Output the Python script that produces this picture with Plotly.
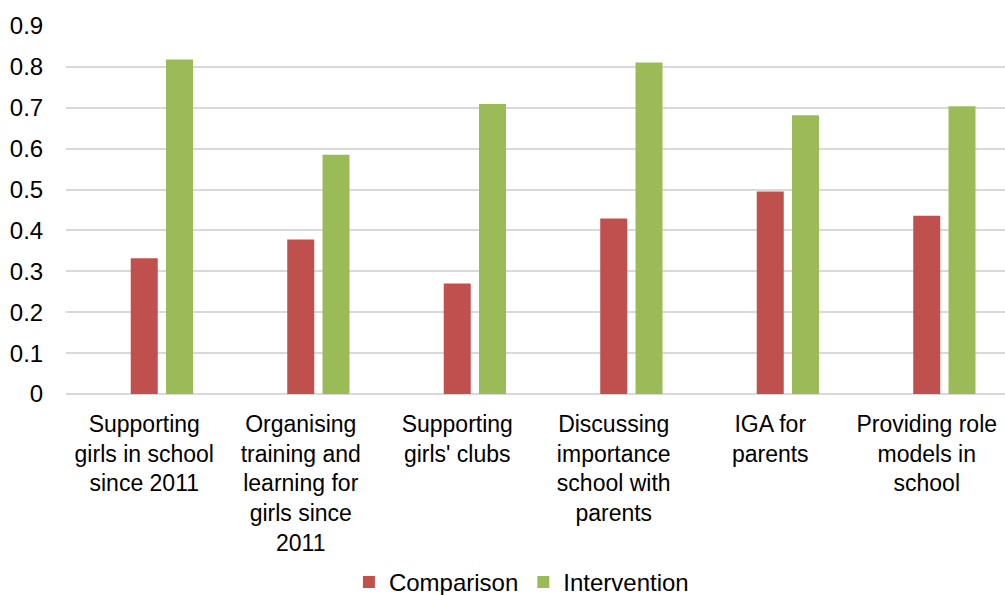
import plotly.graph_objects as go

categories = [
    "Supporting<br>girls in school<br>since 2011",
    "Organising<br>training and<br>learning for<br>girls since<br>2011",
    "Supporting<br>girls' clubs",
    "Discussing<br>importance<br>school with<br>parents",
    "IGA for<br>parents",
    "Providing role<br>models in<br>school",
]
comparison = [0.332, 0.378, 0.270, 0.429, 0.495, 0.436]
intervention = [0.818, 0.585, 0.709, 0.811, 0.682, 0.704]
y_ticks = [0, 0.1, 0.2, 0.3, 0.4, 0.5, 0.6, 0.7, 0.8, 0.9]
y_ticktext = ["0", "0.1", "0.2", "0.3", "0.4", "0.5", "0.6", "0.7", "0.8", "0.9"]

RED = "#C0504D"
GREEN = "#9BBB59"
FONT = "Liberation Sans, Arial, sans-serif"

fig = go.Figure()
fig.add_trace(go.Bar(
    x=categories, y=comparison, name="Comparison",
    marker=dict(color=RED, line=dict(width=0)),
    width=0.1725, offset=-0.0863,
))
fig.add_trace(go.Bar(
    x=categories, y=intervention, name="Intervention",
    marker=dict(color=GREEN, line=dict(width=0)),
    width=0.1725, offset=0.139,
))

fig.update_layout(
    width=1005, height=595,
    margin=dict(l=66, r=0, t=26, b=201, autoexpand=False),
    paper_bgcolor="white", plot_bgcolor="white",
    barmode="overlay",
    font=dict(family=FONT, size=23, color="#000000"),
    showlegend=True,
    legend=dict(
        orientation="h", x=0.485, xanchor="center", y=-0.512, yanchor="middle",
        font=dict(size=24, color="#000000"), itemwidth=30,
        tracegroupgap=0,
    ),
    xaxis=dict(
        type="category", showgrid=False, showline=False, zeroline=False,
        automargin=False,
        ticks="outside", ticklen=9, tickcolor="rgba(0,0,0,0)",
        tickfont=dict(size=23, color="#000000"),
        range=[-0.5, 5.5],
    ),
    yaxis=dict(
        range=[0, 0.9], tickvals=y_ticks, ticktext=y_ticktext,
        automargin=False,
        showgrid=True, gridcolor="#D9D9D9", gridwidth=1.5,
        zeroline=True, zerolinecolor="#D9D9D9", zerolinewidth=1.5,
        showline=False,
        ticks="outside", ticklen=17, tickcolor="rgba(0,0,0,0)",
        tickfont=dict(size=24, color="#000000"),
    ),
)

fig.write_html("out.html")
